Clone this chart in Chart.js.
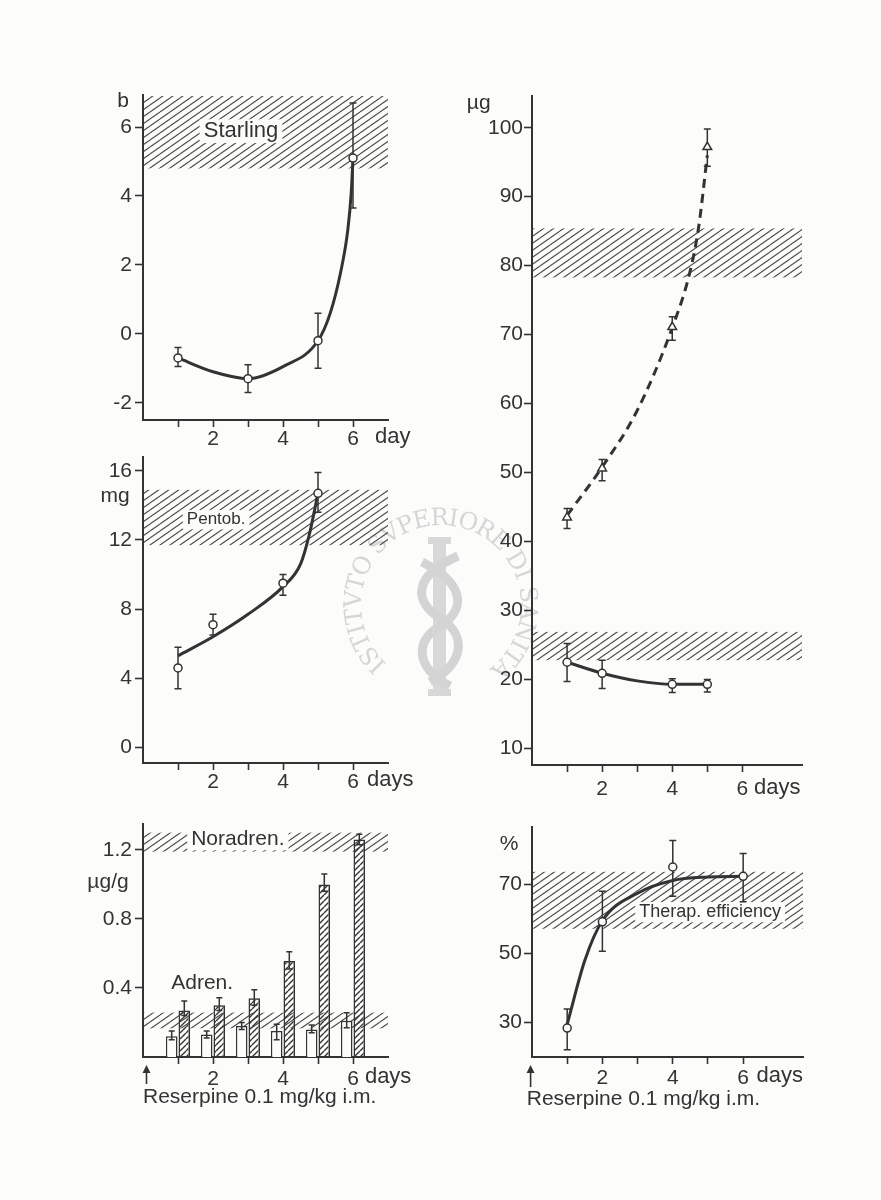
<!DOCTYPE html>
<html>
<head>
<meta charset="utf-8">
<script src="https://cdn.jsdelivr.net/npm/chart.js@4.4.1/dist/chart.umd.min.js"></script>
<style>
  body { margin: 0; background: #fcfcfa; }
  #page { position: relative; width: 881px; height: 1200px; overflow: hidden; }
  canvas { position: absolute; }
  #seal { left: 0; top: 0; z-index: 0; }
  .panel { z-index: 1; }
</style>
</head>
<body>
<div id="page">
  <canvas id="seal" width="881" height="1200"></canvas>
  <canvas id="c1" class="panel" style="left:60px;top:70px" width="380" height="400"></canvas>
  <canvas id="c2" class="panel" style="left:450px;top:70px" width="400" height="760"></canvas>
  <canvas id="c3" class="panel" style="left:60px;top:440px" width="380" height="370"></canvas>
  <canvas id="c4" class="panel" style="left:60px;top:805px" width="380" height="330"></canvas>
  <canvas id="c5" class="panel" style="left:450px;top:805px" width="400" height="330"></canvas>
</div>
<script>
const INK = '#333333';
const BG = '#fcfcfa';
const FONT = '"Liberation Sans", Arial, sans-serif';

// ---- data ----
const dayMarks = [1, 2, 3, 4, 5, 6];
const dayLabels = [2, 4, 6];

// Starling (top left)
const starDays = [1, 3, 5, 6];
const starVal = [-0.7, -1.3, -0.2, 5.1];
const starLow = [-0.95, -1.7, -1.0, 3.65];
const starHigh = [-0.4, -0.9, 0.6, 6.7];
const starFitDays = [1, 2, 3, 4, 5, 5.35, 5.65, 5.85, 5.95, 6];
const starFit = [-0.7, -1.1, -1.3, -0.95, -0.2, 0.6, 1.8, 3.0, 4.1, 5.1];
const starBand = [4.8, 6.9];
const starTicks = [-2, 0, 2, 4, 6];

// µg (top right)
const ugDays = [1, 2, 4, 5];
const triVal = [43.5, 50.6, 71.1, 97.2];
const triLow = [41.9, 48.8, 69.2, 94.4];
const triHigh = [44.8, 51.9, 72.6, 99.8];
const triFitDays = [1, 2, 3, 4, 4.5, 4.75, 5];
const triFit = [43.8, 50.8, 59, 71, 79, 85.5, 96];
const cirVal = [22.5, 20.9, 19.3, 19.3];
const cirLow = [19.7, 18.7, 18.1, 18.2];
const cirHigh = [25.2, 22.8, 20.1, 20.0];
const cirFitDays = [1, 2, 3, 4, 5];
const cirFit = [22.5, 20.9, 19.8, 19.3, 19.3];
const ugBands = [[78.3, 85.4], [22.8, 26.9]];
const ugTicks = [10, 20, 30, 40, 50, 60, 70, 80, 90, 100];

// Pentob. (middle left)
const pentDays = [1, 2, 4, 5];
const pentVal = [4.6, 7.1, 9.5, 14.7];
const pentLow = [3.4, 6.5, 8.8, 13.6];
const pentHigh = [5.8, 7.7, 10.0, 15.9];
const pentFitDays = [1, 2, 3, 4, 4.5, 4.75, 5];
const pentFit = [5.3, 6.4, 7.7, 9.3, 10.6, 12.3, 14.7];
const pentBand = [11.7, 14.9];
const pentTicks = [0, 4, 8, 12, 16];

// Adren / Noradren bars (bottom left)
const barDays = [1, 2, 3, 4, 5, 6];
const adren = [0.12, 0.13, 0.18, 0.15, 0.16, 0.21];
const adrenLow = [0.10, 0.11, 0.16, 0.10, 0.14, 0.17];
const adrenHigh = [0.15, 0.15, 0.20, 0.19, 0.185, 0.257];
const noradren = [0.27, 0.30, 0.34, 0.556, 1.0, 1.26];
const noradrenLow = [0.24, 0.27, 0.30, 0.51, 0.96, 1.23];
const noradrenHigh = [0.325, 0.344, 0.39, 0.61, 1.06, 1.29];
const noradrenBand = [1.19, 1.30];
const adrenBand = [0.166, 0.257];
const barTicks = [0.4, 0.8, 1.2];

// Therap. efficiency (bottom right)
const effDays = [1, 2, 4, 6];
const effVal = [28.4, 59.2, 75.1, 72.4];
const effLow = [22.1, 50.7, 66.6, 65.0];
const effHigh = [33.9, 68.1, 82.8, 79.0];
const effFitDays = [1, 1.5, 2, 3, 4, 5, 6];
const effFit = [29.5, 48, 59.5, 67.5, 71.2, 72.2, 72.4];
const effBand = [57.2, 73.7];
const effTicks = [30, 50, 70];

// ---- helpers ----
function makeHatch(w, h, color, lw) {
    const c = document.createElement('canvas');
    c.width = w;
    c.height = h;
    const g = c.getContext('2d');
    g.strokeStyle = color;
    g.lineWidth = lw;
    for (const k of [-1, 0, 1]) {
        g.beginPath();
        g.moveTo(0, h + k * h);
        g.lineTo(w, k * h);
        g.stroke();
    }
    return g.createPattern(c, 'repeat');
}

const bandHatch = makeHatch(10, 7, '#4a4a4a', 1.1);
const barHatch = makeHatch(6, 6, '#383838', 1.4);

function pts(days, vals) {
    return days.map((d, i) => ({ x: d, y: vals[i] }));
}

function curve(days, vals, dash) {
    return {
        type: 'line', data: pts(days, vals), borderColor: INK, borderWidth: 3,
        borderDash: dash || [], pointRadius: 0, cubicInterpolationMode: 'monotone',
        fill: false, order: 2
    };
}

function marks(days, vals, style) {
    return {
        type: 'line', data: pts(days, vals), showLine: false,
        pointStyle: style || 'circle', pointRadius: style === 'triangle' ? 5 : 4,
        pointBorderWidth: 1.5, pointBorderColor: INK, pointBackgroundColor: BG, order: 0
    };
}

function xAxis(max, pad, height) {
    return {
        type: 'linear', min: 0, max: max, offset: false,
        afterBuildTicks: s => { s.ticks = dayMarks.map(v => ({ value: v })); },
        afterFit: s => { s.height = height; },
        border: { color: INK, width: 2 },
        grid: { drawOnChartArea: false, offset: false, tickLength: 7, tickWidth: 1.6, tickColor: INK },
        ticks: {
            padding: pad, autoSkip: false, maxRotation: 0, color: INK,
            callback: v => dayLabels.includes(v) ? String(v) : ''
        }
    };
}

function yAxis(min, max, tickVals, width, pad, fmt) {
    return {
        type: 'linear', min: min, max: max,
        afterBuildTicks: s => { s.ticks = tickVals.map(v => ({ value: v })); },
        afterFit: s => { s.width = width; },
        border: { color: INK, width: 2 },
        grid: { drawOnChartArea: false, tickLength: 8, tickWidth: 1.6, tickColor: INK },
        ticks: { padding: pad, color: INK, callback: v => fmt ? fmt(v) : String(v) }
    };
}

function drawErrors(chart, list) {
    const { ctx, scales: { y } } = chart;
    ctx.save();
    ctx.strokeStyle = INK;
    ctx.lineWidth = 1.5;
    list.forEach(e => {
        const els = chart.getDatasetMeta(e.ds).data;
        e.low.forEach((lo, i) => {
            const px = els[i].x;
            const y0 = y.getPixelForValue(lo), y1 = y.getPixelForValue(e.high[i]);
            const cap = e.cap || 3.5;
            ctx.beginPath();
            ctx.moveTo(px, y0); ctx.lineTo(px, y1);
            ctx.moveTo(px - cap, y0); ctx.lineTo(px + cap, y0);
            ctx.moveTo(px - cap, y1); ctx.lineTo(px + cap, y1);
            ctx.stroke();
        });
    });
    ctx.restore();
}

const decor = {
    id: 'decor',
    beforeDatasetsDraw(chart, args, opts) {
        const { ctx, chartArea: a, scales: { x, y } } = chart;
        ctx.save();
        (opts.bands || []).forEach(b => {
            const top = y.getPixelForValue(b[1]), bot = y.getPixelForValue(b[0]);
            ctx.fillStyle = bandHatch;
            ctx.fillRect(a.left + 1, top, a.right - a.left - 1, bot - top);
        });
        (opts.labels || []).forEach(l => {
            ctx.font = (l.size || 21) + 'px ' + FONT;
            ctx.textAlign = l.align || 'center';
            ctx.textBaseline = 'middle';
            const px = x.getPixelForValue(l.x);
            const py = l.dy !== undefined ? a.bottom + l.dy : y.getPixelForValue(l.y);
            if (l.bg) {
                const w = ctx.measureText(l.t).width;
                const h = (l.size || 21) * 0.9;
                ctx.fillStyle = BG;
                ctx.fillRect(px - w / 2 - 4, py - h / 2 - 2, w + 8, h + 4);
            }
            ctx.fillStyle = INK;
            ctx.fillText(l.t, px, py);
        });
        if (opts.arrow) {
            const ax = x.getPixelForValue(opts.arrow.x);
            const t = a.bottom + opts.arrow.top, b = a.bottom + opts.arrow.bottom;
            ctx.strokeStyle = INK;
            ctx.fillStyle = INK;
            ctx.lineWidth = 1.6;
            ctx.beginPath(); ctx.moveTo(ax, b); ctx.lineTo(ax, t + 4); ctx.stroke();
            ctx.beginPath(); ctx.moveTo(ax - 4, t + 8); ctx.lineTo(ax, t); ctx.lineTo(ax + 4, t + 8); ctx.closePath(); ctx.fill();
        }
        ctx.restore();
        if (!opts.errorsOnTop) drawErrors(chart, opts.errors || []);
    },
    afterDatasetsDraw(chart, args, opts) {
        if (opts.errorsOnTop) drawErrors(chart, opts.errors || []);
    }
};

Chart.register(decor);
Chart.defaults.font.family = FONT;
Chart.defaults.font.size = 21;
Chart.defaults.color = INK;

function options(pad, x, y, dec) {
    return {
        responsive: false, devicePixelRatio: 1, animation: false, events: [],
        layout: { padding: { top: pad.top, right: pad.right, left: 0, bottom: 0 } },
        scales: { x: x, y: y },
        plugins: { legend: { display: false }, tooltip: { enabled: false }, decor: dec }
    };
}

// ---- top left: Starling ----
new Chart(document.getElementById('c1'), {
    type: 'line',
    data: { datasets: [curve(starFitDays, starFit), marks(starDays, starVal)] },
    options: options({ top: 25, right: 52 }, xAxis(7, 0, 50), yAxis(-2.5, 6.93, starTicks, 83, 3), {
        bands: [starBand],
        errors: [{ ds: 1, low: starLow, high: starHigh }],
        labels: [
            { t: 'Starling', x: 2.8, y: 5.88, bg: true, size: 22 },
            { t: 'b', x: -0.57, y: 6.75 },
            { t: 'day', x: 6.63, dy: 17, align: 'left', size: 22 }
        ]
    })
});

// ---- top right: µg ----
new Chart(document.getElementById('c2'), {
    type: 'line',
    data: {
        datasets: [
            curve(triFitDays, triFit, [9, 6]), marks(ugDays, triVal, 'triangle'),
            curve(cirFitDays, cirFit), marks(ugDays, cirVal)
        ]
    },
    options: options({ top: 26, right: 48 }, xAxis(7.7, 5, 65), yAxis(7.6, 104.6, ugTicks, 82, 1), {
        bands: ugBands,
        errors: [{ ds: 1, low: triLow, high: triHigh }, { ds: 3, low: cirLow, high: cirHigh }],
        labels: [
            { t: 'µg', x: -1.52, y: 103.6 },
            { t: 'days', x: 6.33, dy: 23, align: 'left', size: 22 }
        ]
    })
});

// ---- middle left: Pentob. ----
new Chart(document.getElementById('c3'), {
    type: 'line',
    data: { datasets: [curve(pentFitDays, pentFit), marks(pentDays, pentVal)] },
    options: options({ top: 17, right: 52 }, xAxis(7, 0, 47), yAxis(-0.9, 16.8, pentTicks, 83, 3), {
        bands: [pentBand],
        errors: [{ ds: 1, low: pentLow, high: pentHigh }],
        labels: [
            { t: 'Pentob.', x: 2.09, y: 13.17, bg: true, size: 17 },
            { t: 'mg', x: -0.8, y: 14.55 },
            { t: 'days', x: 6.4, dy: 17, align: 'left', size: 22 }
        ]
    })
});

// ---- bottom left: bars ----
new Chart(document.getElementById('c4'), {
    type: 'bar',
    data: {
        datasets: [
            {
                data: pts(barDays, adren), backgroundColor: BG, borderColor: INK, borderWidth: 1.5,
                categoryPercentage: 0.72, barPercentage: 0.92
            },
            {
                data: pts(barDays, noradren), backgroundColor: barHatch, borderColor: INK, borderWidth: 1.5,
                categoryPercentage: 0.72, barPercentage: 0.92
            }
        ]
    },
    options: options({ top: 19, right: 52 }, xAxis(7, 3, 78),
        yAxis(0, 1.35, barTicks, 83, 3, v => v.toFixed(1)), {
        bands: [noradrenBand, adrenBand],
        errorsOnTop: true,
        errors: [
            { ds: 0, low: adrenLow, high: adrenHigh, cap: 3 },
            { ds: 1, low: noradrenLow, high: noradrenHigh, cap: 3 }
        ],
        labels: [
            { t: 'Noradren.', x: 2.71, y: 1.264, bg: true },
            { t: 'Adren.', x: 1.69, y: 0.43 },
            { t: 'µg/g', x: -1.0, y: 1.01 },
            { t: 'days', x: 6.34, dy: 20, align: 'left', size: 22 },
            { t: 'Reserpine 0.1 mg/kg i.m.', x: 0, dy: 40, align: 'left' }
        ],
        arrow: { x: 0.1, top: 8, bottom: 27 }
    })
});

// ---- bottom right: Therap. efficiency ----
new Chart(document.getElementById('c5'), {
    type: 'line',
    data: { datasets: [curve(effFitDays, effFit), marks(effDays, effVal)] },
    options: options({ top: 22, right: 47 }, xAxis(7.7, 2, 78), yAxis(20, 86.7, effTicks, 82, 2), {
        bands: [effBand],
        errors: [{ ds: 1, low: effLow, high: effHigh }],
        labels: [
            { t: 'Therap. efficiency', x: 5.06, y: 62, bg: true, size: 18 },
            { t: '%', x: -0.65, y: 81.7 },
            { t: 'days', x: 6.38, dy: 19, align: 'left', size: 22 },
            { t: 'Reserpine 0.1 mg/kg i.m.', x: -0.15, dy: 42, align: 'left' }
        ],
        arrow: { x: -0.04, top: 8, bottom: 30 }
    })
});

// ---- faint seal watermark behind the panels ----
drawSeal();

function drawSeal() {
    const g = document.getElementById('seal').getContext('2d');
    const cx = 441, cy = 605, r = 80;
    const txt = 'ISTITVTO SVPERIORE DI SANITA';
    const start = 2.32, end = 7.2;
    g.fillStyle = '#d6d6d6';
    g.font = '24px "DejaVu Serif", "Liberation Serif", serif';
    const chars = [...txt];
    const widths = chars.map(ch => g.measureText(ch).width);
    const total = widths.reduce((s, w) => s + w, 0);
    const rm = r + 8;
    const gap = ((end - start) * rm - total) / (chars.length - 1);
    let s = start * rm;
    chars.forEach((ch, i) => {
        const ang = (s + widths[i] / 2) / rm;
        g.save();
        g.translate(cx + r * Math.cos(ang), cy + r * Math.sin(ang));
        g.rotate(ang + Math.PI / 2);
        g.textAlign = 'center';
        g.fillText(ch, 0, 0);
        g.restore();
        s += widths[i] + gap;
    });

    g.fillStyle = '#d8d8d8';
    g.fillRect(433, 540, 13, 155);
    g.fillRect(428, 537, 23, 7);
    g.fillRect(428, 689, 23, 7);
    g.strokeStyle = '#d4d4d4';
    g.lineWidth = 9;
    g.beginPath();
    g.moveTo(458, 556);
    g.bezierCurveTo(412, 576, 414, 602, 440, 618);
    g.bezierCurveTo(466, 634, 466, 662, 430, 682);
    g.stroke();
    g.beginPath();
    g.moveTo(422, 562);
    g.bezierCurveTo(466, 584, 466, 610, 440, 626);
    g.bezierCurveTo(414, 642, 416, 668, 450, 686);
    g.stroke();
}
</script>
</body>
</html>
